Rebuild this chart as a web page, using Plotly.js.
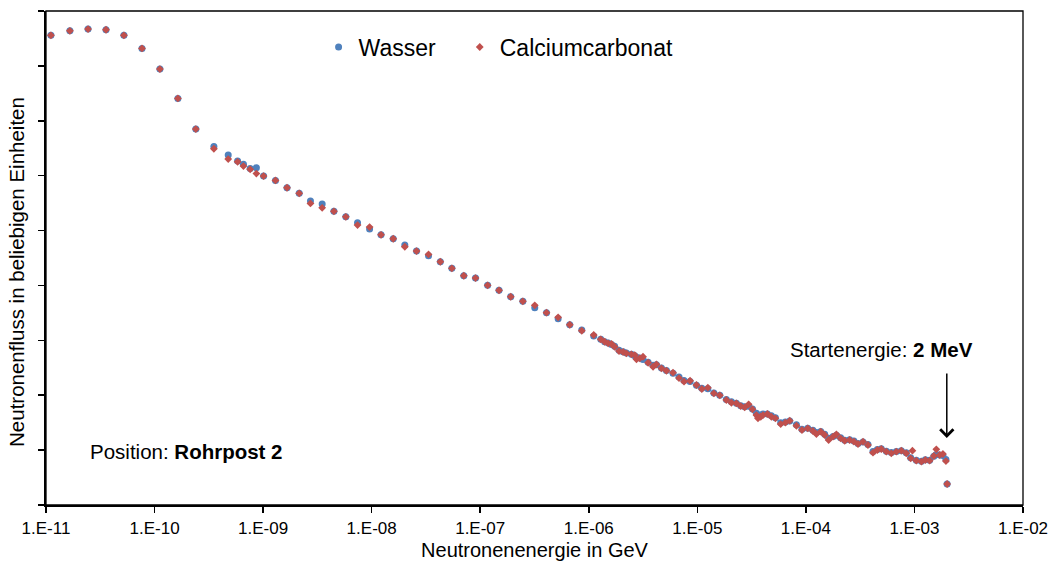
<!DOCTYPE html>
<html>
<head>
<meta charset="utf-8">
<script src="https://cdn.plot.ly/plotly-3.0.1.min.js"></script>
<style>html,body{margin:0;padding:0;background:#fff;}#chart{width:1050px;height:561px;}</style>
</head>
<body>
<div id="chart"></div>
<script>
// Neutron energy in GeV (shared by both series)
const energy = [
  1.11e-11, 1.66e-11, 2.44e-11, 3.57e-11, 5.22e-11, 7.66e-11, 1.12e-10, 1.64e-10, 2.40e-10, 3.52e-10,
  4.77e-10, 5.82e-10, 6.59e-10, 7.60e-10, 8.67e-10, 1.01e-9, 1.30e-9, 1.66e-9, 2.15e-9, 2.73e-9,
  3.50e-9, 4.49e-9, 5.78e-9, 7.41e-9, 9.57e-9, 1.22e-8, 1.58e-8, 2.02e-8, 2.59e-8, 3.34e-8,
  4.29e-8, 5.48e-8, 7.06e-8, 9.05e-8, 1.17e-7, 1.49e-7, 1.91e-7, 2.47e-7, 3.18e-7, 4.08e-7,
  5.22e-7, 6.68e-7, 8.62e-7,
  1.11e-6, 1.29e-6, 1.40e-6, 1.51e-6, 1.62e-6, 1.73e-6, 1.90e-6, 2.07e-6, 2.22e-6, 2.47e-6,
  2.65e-6, 2.75e-6, 2.95e-6, 3.16e-6, 3.52e-6, 3.91e-6, 4.20e-6, 4.67e-6, 5.19e-6, 5.97e-6,
  6.78e-6, 7.54e-6, 8.57e-6, 9.82e-6, 1.10e-5, 1.25e-5, 1.42e-5, 1.61e-5, 1.85e-5, 2.06e-5,
  2.29e-5, 2.51e-5, 2.73e-5, 2.97e-5, 3.22e-5, 3.50e-5, 3.62e-5, 3.84e-5, 4.03e-5, 4.42e-5,
  4.81e-5, 5.24e-5, 5.86e-5, 6.47e-5, 7.10e-5, 8.18e-5, 9.20e-5, 1.04e-4, 1.16e-4, 1.25e-4,
  1.37e-4, 1.49e-4, 1.62e-4, 1.78e-4, 1.91e-4, 2.09e-4, 2.28e-4, 2.53e-4, 2.77e-4, 3.02e-4,
  3.36e-4, 3.73e-4, 4.15e-4, 4.55e-4, 4.95e-4, 5.51e-4, 6.12e-4, 6.81e-4, 7.57e-4, 8.41e-4,
  9.23e-4, 9.58e-4, 1.04e-3, 1.16e-3, 1.26e-3, 1.38e-3, 1.51e-3, 1.59e-3, 1.71e-3, 1.83e-3,
  1.95e-3, 2.00e-3
];

// Neutron flux, arbitrary units — Wasser
const fluxWasser = [
  8.556, 8.639, 8.670, 8.658, 8.556, 8.319, 7.942, 7.408, 6.849, 6.530,
  6.375, 6.266, 6.206, 6.129, 6.144, 5.993, 5.914, 5.780, 5.678, 5.537,
  5.483, 5.350, 5.251, 5.142, 5.027, 4.923, 4.851, 4.736, 4.627, 4.541,
  4.432, 4.311, 4.177, 4.135, 4.002, 3.911, 3.794, 3.710, 3.594, 3.503,
  3.393, 3.284, 3.188,
  3.080, 3.018, 2.974, 2.950, 2.925, 2.890, 2.820, 2.790, 2.770, 2.745,
  2.720, 2.690, 2.680, 2.650, 2.600, 2.545, 2.555, 2.495, 2.450, 2.400,
  2.330, 2.270, 2.250, 2.180, 2.125, 2.120, 2.040, 2.000, 1.920, 1.880,
  1.855, 1.810, 1.790, 1.800, 1.750, 1.670, 1.620, 1.640, 1.660, 1.660,
  1.625, 1.590, 1.500, 1.510, 1.530, 1.460, 1.380, 1.400, 1.360, 1.320,
  1.340, 1.290, 1.215, 1.250, 1.270, 1.225, 1.180, 1.190, 1.165, 1.120,
  1.150, 1.100, 0.975, 1.010, 1.025, 0.980, 0.955, 0.975, 0.990, 0.950,
  0.860, null, 0.815, 0.795, 0.825, 0.815, 0.890, 0.920, 0.910, 0.900,
  0.830, 0.383
];

// Neutron flux, arbitrary units — Calciumcarbonat
const fluxCalcium = [
  8.556, 8.639, 8.670, 8.658, 8.556, 8.319, 7.942, 7.408, 6.849, 6.490,
  6.302, 6.253, 6.175, 6.115, 6.038, 5.993, 5.914, 5.780, 5.678, 5.495,
  5.415, 5.350, 5.251, 5.100, 5.064, 4.923, 4.851, 4.705, 4.627, 4.566,
  4.432, 4.311, 4.177, 4.135, 4.002, 3.911, 3.794, 3.710, 3.638, 3.503,
  3.419, 3.284, 3.175,
  3.097, 3.018, 2.974, 2.945, 2.933, 2.883, 2.805, 2.787, 2.763, 2.745,
  2.732, 2.654, 2.672, 2.701, 2.592, 2.519, 2.563, 2.490, 2.446, 2.410,
  2.313, 2.246, 2.264, 2.186, 2.113, 2.137, 2.035, 1.998, 1.913, 1.863,
  1.852, 1.803, 1.780, 1.834, 1.743, 1.639, 1.579, 1.608, 1.639, 1.658,
  1.608, 1.579, 1.475, 1.499, 1.536, 1.444, 1.366, 1.397, 1.348, 1.293,
  1.335, 1.275, 1.184, 1.244, 1.288, 1.215, 1.171, 1.184, 1.153, 1.111,
  1.153, 1.093, 0.953, 1.002, 1.020, 0.971, 0.942, 0.971, 0.989, 0.942,
  0.851, 0.989, 0.807, 0.789, 0.820, 0.807, 0.893, 1.015, 0.911, 0.929,
  0.801, 0.383
];

const xTickValues = [1e-11, 1e-10, 1e-9, 1e-8, 1e-7, 1e-6, 1e-5, 1e-4, 1e-3, 1e-2];
const xTickLabels = ['1.E-11', '1.E-10', '1.E-09', '1.E-08', '1.E-07', '1.E-06', '1.E-05', '1.E-04', '1.E-03', '1.E-02'];
const seriesNames = ['Wasser', 'Calciumcarbonat'];

const FONT = 'Liberation Sans, Arial, sans-serif';

const traces = [
  {
    x: energy, y: fluxWasser, name: seriesNames[0], type: 'scatter', mode: 'markers',
    legend: 'legend',
    marker: {symbol: 'circle', size: 7, color: '#4F81BD'}
  },
  {
    x: energy, y: fluxCalcium, name: seriesNames[1], type: 'scatter', mode: 'markers',
    legend: 'legend2',
    marker: {symbol: 'diamond', size: 6, color: '#C0504D'}
  }
];

const legendStyle = {
  orientation: 'h', y: 0.927, xanchor: 'left', yanchor: 'middle',
  font: {family: FONT, size: 23, color: '#000'}, bgcolor: 'rgba(0,0,0,0)'
};

const layout = {
  width: 1050, height: 561,
  margin: {l: 46, r: 27, t: 11, b: 56},
  paper_bgcolor: '#ffffff', plot_bgcolor: '#ffffff',
  font: {family: FONT, color: '#000000', size: 17},
  showlegend: true,
  legend: Object.assign({x: 0.279}, legendStyle),
  legend2: Object.assign({x: 0.4235}, legendStyle),
  xaxis: {
    type: 'log', range: [-11, -2], tickvals: xTickValues, ticktext: xTickLabels,
    showgrid: false, zeroline: false, showline: true, linecolor: '#000', linewidth: 2,
    ticks: 'outside', ticklen: 6, tickwidth: 1.5, tickcolor: '#000', ticklabelstandoff: 1,
    tickfont: {family: FONT, size: 17},
    title: {text: 'Neutronenenergie in GeV', font: {family: FONT, size: 20}, standoff: 9}
  },
  yaxis: {
    range: [0, 9], dtick: 1, showticklabels: false,
    showgrid: false, zeroline: false, showline: true, linecolor: '#000', linewidth: 2,
    ticks: 'outside', ticklen: 6, tickwidth: 1.5, tickcolor: '#000'
  },
  shapes: [
    {type: 'rect', xref: 'paper', yref: 'paper', x0: 0, x1: 1, y0: 0, y1: 1,
     line: {color: '#000', width: 1.3}, fillcolor: 'rgba(0,0,0,0)'}
  ],
  annotations: [
    {xref: 'paper', yref: 'paper', x: -0.0297, y: 0.4717, xanchor: 'center', yanchor: 'middle',
     textangle: -90, text: 'Neutronenfluss in beliebigen Einheiten', showarrow: false,
     font: {family: FONT, size: 20.5, color: '#000'}},
    {xref: 'paper', yref: 'paper', x: 0.043, y: 0.1093, xanchor: 'left', yanchor: 'middle',
     text: 'Position: <b>Rohrpost 2</b>', showarrow: false, font: {family: FONT, size: 20.5, color: '#000'}},
    {xref: 'paper', yref: 'paper', x: 0.759, y: 0.3138, xanchor: 'left', yanchor: 'middle',
     text: 'Startenergie: <b>2 MeV</b>', showarrow: false, font: {family: FONT, size: 20.5, color: '#000'}},
    {xref: 'paper', yref: 'paper', x: 0.922, y: 0.1356, text: '', showarrow: true,
     ax: 0, ay: -66, arrowhead: 4, arrowsize: 1.7, arrowwidth: 1.5, arrowcolor: '#000'}
  ]
};

Plotly.newPlot('chart', traces, layout, {displayModeBar: false, staticPlot: true});
</script>
</body>
</html>
